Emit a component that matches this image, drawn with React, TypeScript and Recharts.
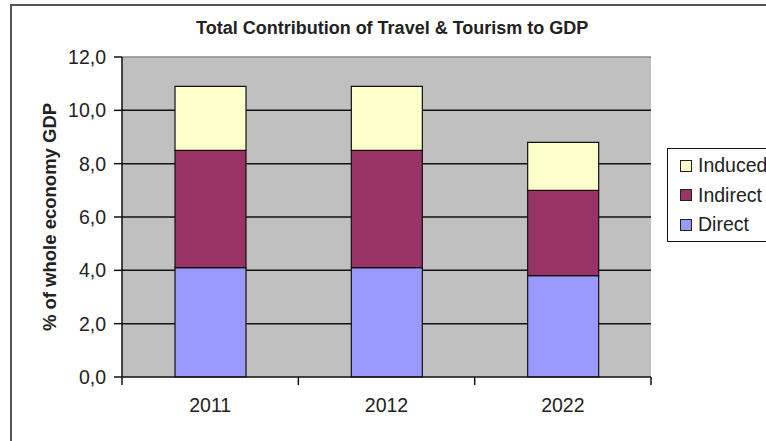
import React from 'react';
import {
  BarChart, Bar, XAxis, YAxis, CartesianGrid, ReferenceLine,
} from 'recharts';

const years = ['2011', '2012', '2022'];
const direct = [4.1, 4.1, 3.8];
const indirect = [4.4, 4.4, 3.2];
const induced = [2.4, 2.4, 1.8];
const yTicks = [0, 2, 4, 6, 8, 10, 12];

const series = [
  { key: 'direct', name: 'Direct', color: '#9999ff' },
  { key: 'indirect', name: 'Indirect', color: '#993366' },
  { key: 'induced', name: 'Induced', color: '#ffffcc' },
];

const data = years.map((year, i) => ({
  year,
  direct: direct[i],
  indirect: indirect[i],
  induced: induced[i],
}));

const FONT = '"Liberation Sans", Arial, sans-serif';

// category label plus Excel-style tick marks between the categories
function YearTick(props: any) {
  const { x, y, payload, index, visibleTicksCount } = props;
  const half = payload.offset || 0;
  const last = index === visibleTicksCount - 1;
  return (
    <g>
      <line x1={x - half} x2={x - half} y1={y} y2={y + 8} stroke="#111" strokeWidth={1.5} />
      {last && <line x1={x + half} x2={x + half} y1={y} y2={y + 8} stroke="#111" strokeWidth={1.5} />}
      <text x={x} y={y + 21} dy="0.71em" textAnchor="middle" fill="#222" fontSize={19.5} fontFamily={FONT}>
        {payload.value}
      </text>
    </g>
  );
}

function LegendBox() {
  // legend lists the stack top-down
  const items = [...series].reverse();
  return (
    <div
      style={{
        position: 'absolute',
        left: 667,
        top: 148,
        border: '1.5px solid #111',
        background: '#fff',
        width: 110,
        height: 94,
        boxSizing: 'border-box',
        paddingTop: 2,
        fontFamily: FONT,
        fontSize: 19.5,
        color: '#222',
      }}
    >
      {items.map((s) => (
        <div key={s.key} style={{ display: 'flex', alignItems: 'center', height: 29.5, paddingLeft: 12 }}>
          <span
            style={{
              width: 10,
              height: 10,
              background: s.color,
              border: '1.3px solid #222',
              marginRight: 6,
              display: 'inline-block',
            }}
          />
          <span style={{ whiteSpace: 'nowrap' }}>{s.name}</span>
        </div>
      ))}
    </div>
  );
}

export default function App() {
  return (
    <div style={{ position: 'absolute', left: 0, top: 0, width: 766, height: 441, overflow: 'hidden', background: '#fff' }}>
      <div
        style={{
          position: 'absolute',
          left: 10,
          top: 4,
          width: 780,
          height: 460,
          borderLeft: '2px solid #555',
          borderTop: '2px solid #555',
        }}
      />
      <div
        style={{
          position: 'absolute',
          left: 196,
          top: 18,
          fontFamily: FONT,
          fontWeight: 'bold',
          fontSize: 18,
          color: '#222',
          whiteSpace: 'nowrap',
        }}
      >
        Total Contribution of Travel &amp; Tourism to GDP
      </div>
      <div style={{ position: 'absolute', left: 0, top: 0 }}>
        <BarChart
          width={766}
          height={441}
          data={data}
          margin={{ top: 57, right: 115, bottom: 24, left: 0 }}
          barSize={71}
          style={{ fontFamily: FONT }}
        >
          <CartesianGrid
            fill="#c0c0c0"
            vertical={false}
            horizontalValues={[2, 4, 6, 8, 10]}
            stroke="#111"
            strokeWidth={1.5}
          />
          <ReferenceLine y={12} stroke="#8a8a8a" strokeWidth={1.5} />
          <XAxis
            dataKey="year"
            height={40}
            axisLine={{ stroke: '#111', strokeWidth: 1.5 }}
            tickLine={false}
            tickSize={0}
            tickMargin={0}
            tick={<YearTick />}
          />
          <YAxis
            domain={[0, 12]}
            ticks={yTicks}
            width={122}
            axisLine={{ stroke: '#111', strokeWidth: 1.5 }}
            tickLine={{ stroke: '#111', strokeWidth: 1.5 }}
            tickSize={8}
            tickMargin={8}
            tick={{ fill: '#222', fontSize: 19.5 }}
            tickFormatter={(v: number) => v.toFixed(1).replace('.', ',')}
            label={{
              value: '% of whole economy GDP',
              angle: -90,
              position: 'center',
              dx: -12,
              style: { fontWeight: 'bold', fontSize: 18.5, fill: '#222' },
            }}
          />
          <YAxis
            yAxisId="right"
            orientation="right"
            domain={[0, 12]}
            width={0}
            tick={false}
            tickLine={false}
            axisLine={{ stroke: '#8a8a8a', strokeWidth: 1.5 }}
          />
          {series.map((s) => (
            <Bar
              key={s.key}
              dataKey={s.key}
              name={s.name}
              stackId="gdp"
              fill={s.color}
              stroke="#111"
              strokeWidth={1.2}
              isAnimationActive={false}
            />
          ))}
        </BarChart>
      </div>
      <LegendBox />
    </div>
  );
}
